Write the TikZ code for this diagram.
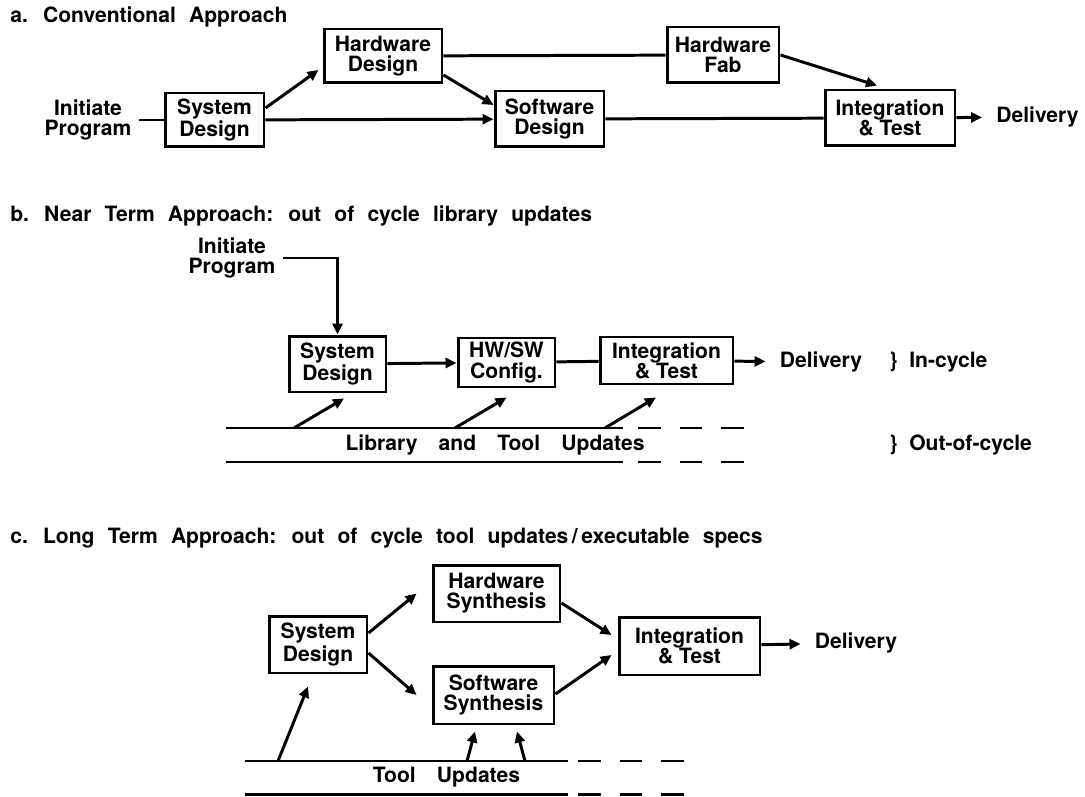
\documentclass[tikz,border=0pt]{standalone}
\usepackage{fontspec}
\setmainfont{TeX Gyre Heros}
\usetikzlibrary{arrows.meta}
\newcommand\labelfont{\bfseries\fontsize{12}{11.5}\selectfont}
\newcommand\headfont{\bfseries\fontsize{12}{12}\selectfont\spaceskip=7.5pt\relax}
\tikzset{
  box/.style={draw, line width=1.7pt, inner sep=0pt, align=center, font=\labelfont},
  txt/.style={inner xsep=0.14cm, inner ysep=2pt, align=center, font=\labelfont},
  head/.style={anchor=west, inner xsep=0.14cm, font=\headfont},
  link/.style={line width=1.7pt},
  flow/.style={link, -{Triangle[length=0.22cm,width=0.2cm]}},
  tail/.style={link, dash pattern=on 0.46cm off 0.37cm}
}
\begin{document}
\begin{tikzpicture}[x=0.02cm,y=-0.02cm]
    \useasboundingbox (0,0) rectangle (1085,797);
    % a. conventional approach
    \node[head] (ahead) at (3,17) {a. Conventional Approach};
    \node[txt] (ainit) at (88,120) {Initiate\\Program};
    \node[box,minimum width=1.98cm,minimum height=1.08cm] (asys) at (214.5,120) {System\\Design};
    \node[box,minimum width=2.36cm,minimum height=1.08cm] (ahw) at (383,56) {Hardware\\Design};
    \node[box,minimum width=2.18cm,minimum height=1.12cm] (asw) at (549.5,119) {Software\\Design};
    \node[box,minimum width=2.24cm,minimum height=1.12cm] (afab) at (723,55) {Hardware\\Fab};
    \node[box,minimum width=2.6cm,minimum height=1.12cm] (aint) at (890,118) {Integration\\\& Test};
    \node[txt] (adel) at (1037.5,117) {Delivery};
    \draw[link] (ainit) -- (asys);
    \draw[flow] ([yshift=0.24cm]asys.east) -- ([xshift=-0.08cm,yshift=-0.28cm]ahw.west);
    \draw[flow] (asys) -- (asw);
    \draw[flow] ([yshift=-0.38cm]ahw.east) -- ([yshift=0.28cm]asw.west);
    \draw[link] (ahw) -- (afab);
    \draw[flow] (afab.east) -- ([xshift=-0.26cm,yshift=0.06cm]aint.north);
    \draw[link] (asw) -- (aint);
    \draw[flow,shorten >=0.14cm] (aint) -- (adel);
    % b. near term approach
    \node[head] (bhead) at (3,216) {b. Near Term Approach: out of cycle library updates};
    \node[txt] (binit) at (232,258) {Initiate\\Program};
    \node[box,minimum width=1.94cm,minimum height=1.12cm] (bsys) at (337.5,364) {System\\Design};
    \node[box,minimum width=1.94cm,minimum height=0.98cm] (bcfg) at (506.5,362.5) {HW/SW\\Config.};
    \node[box,minimum width=2.66cm,minimum height=0.94cm] (bint) at (666.5,360.5) {Integration\\\& Test};
    \node[txt] (bdel) at (821,362) {Delivery};
    \node[txt,anchor=west] (bin) at (882,362) {\}~~In-cycle};
    \node[txt,anchor=west] (bout) at (882,445) {\}~~Out-of-cycle};
    \node[txt] (blib) at (495,445) {Library\quad and\quad Tool\quad Updates};
    \foreach \y in {428,462}
        {\draw[link] (226,\y) -- (623,\y);
         \draw[tail] (638,\y) -- (749,\y);
        }
    \coordinate (bl1) at (294,428);
    \coordinate (bl2) at (455,428);
    \coordinate (bl3) at (605,428);
    \draw[flow] (binit.east) -| (bsys.north);
    \draw[flow] (bsys) -- (bcfg);
    \draw[link] (bcfg) -- (bint);
    \draw[flow,shorten >=0.14cm] (bint) -- (bdel);
    \draw[flow] (bl1) -- ([xshift=0.13cm,yshift=-0.1cm]bsys.south);
    \draw[flow] (bl2) -- ([yshift=-0.18cm]bcfg.south);
    \draw[flow] (bl3) -- ([xshift=-0.21cm,yshift=-0.24cm]bint.south);
    % c. long term approach
    \node[head] (chead) at (3,538) {c. Long Term Approach: out of cycle tool updates\,/\,executable specs};
    \node[box,minimum width=1.96cm,minimum height=1.14cm] (csys) at (318,644.5) {System\\Design};
    \node[box,minimum width=2.54cm,minimum height=1.14cm] (chw) at (496.5,593.5) {Hardware\\Synthesis};
    \node[box,minimum width=2.42cm,minimum height=1.16cm] (csw) at (493.5,695) {Software\\Synthesis};
    \node[box,minimum width=2.82cm,minimum height=1.16cm] (cint) at (689.5,646) {Integration\\\& Test};
    \node[txt] (cdel) at (856,643) {Delivery};
    \node[txt] (ctool) at (446.5,777) {Tool\quad Updates};
    \foreach \y in {761,794}
        {\draw[link] (245,\y) -- (568,\y);
         \draw[tail] (578,\y) -- (685,\y);
        }
    \coordinate (cl1) at (278,761);
    \coordinate (cl2) at (467,761);
    \coordinate (cl3) at (525,761);
    \draw[flow] ([yshift=0.23cm]csys.east) -- ([xshift=-0.3cm]chw.west);
    \draw[flow] ([yshift=-0.17cm]csys.east) -- ([xshift=-0.3cm]csw.west);
    \draw[flow] ([yshift=-0.19cm]chw.east) -- ([xshift=-0.12cm,yshift=0.22cm]cint.west);
    \draw[flow] ([yshift=0.02cm]csw.east) -- ([xshift=-0.12cm,yshift=-0.18cm]cint.west);
    \draw[flow,shorten >=0.14cm] (cint) -- (cdel);
    \draw[flow] (cl1) -- ([xshift=-0.2cm,yshift=-0.24cm]csys.south);
    \draw[flow] (cl2) -- ([xshift=-0.37cm,yshift=-0.12cm]csw.south);
    \draw[flow] (cl3) -- ([xshift=0.47cm,yshift=-0.12cm]csw.south);
\end{tikzpicture}
\end{document}
